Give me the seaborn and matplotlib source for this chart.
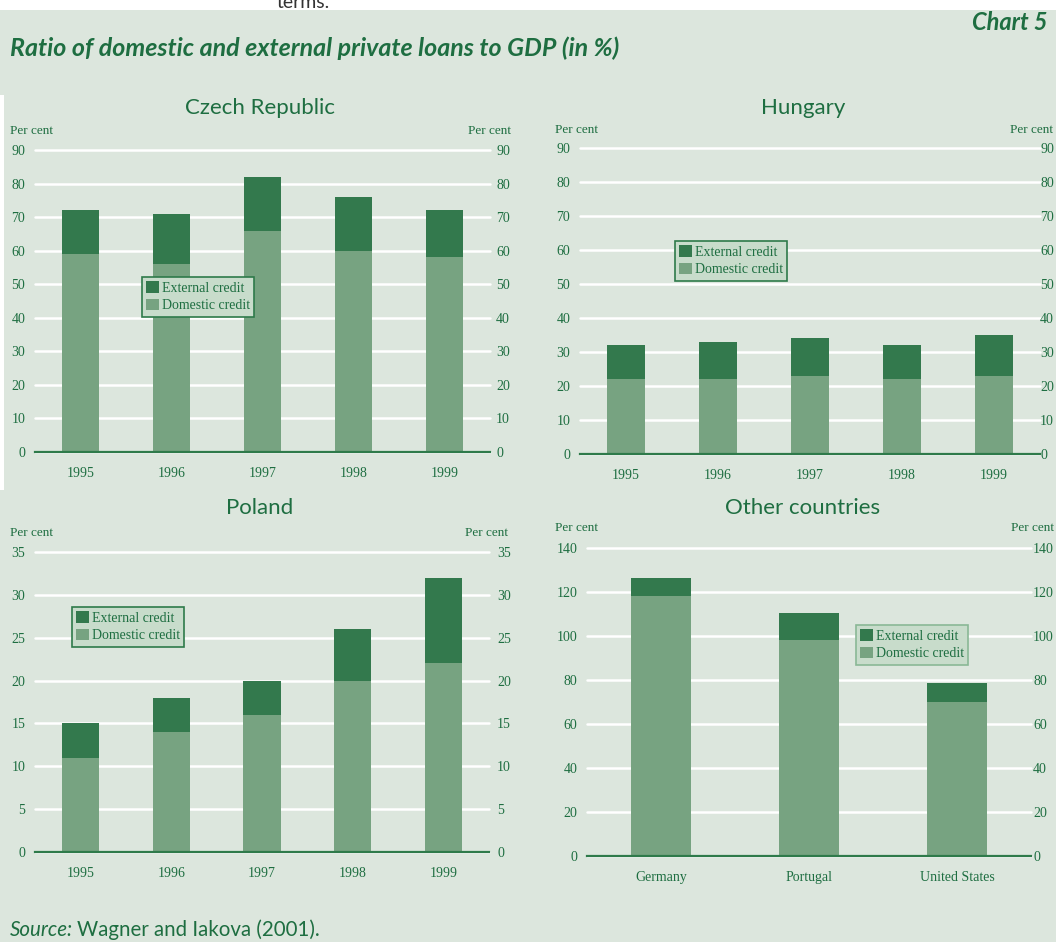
import matplotlib
matplotlib.use('Agg')
import matplotlib.pyplot as plt
import pandas as pd
import seaborn as sns
from matplotlib.patches import Patch, Rectangle

# data (per cent of GDP)
years = ['1995', '1996', '1997', '1998', '1999']
czech_total = [72, 71, 82, 76, 72]
czech_domestic = [59, 56, 66, 60, 58]
hungary_total = [32, 33, 34, 32, 35]
hungary_domestic = [22, 22, 23, 22, 23]
poland_total = [15, 18, 20, 26, 32]
poland_domestic = [11, 14, 16, 20, 22]
other_countries = ['Germany', 'Portugal', 'United States']
other_total = [126.5, 110.5, 78.5]
other_domestic = [118, 98, 70]

BG = '#dce6dd'
DARK = '#33794d'
LIGHT = '#77a381'
TXT = '#1e6e41'
LINE = '#2e7a4a'

W, H = 1056, 942
sns.set_theme(style='white')
plt.rcParams['font.family'] = ['Liberation Serif', 'DejaVu Serif']

fig = plt.figure(figsize=(W / 100, H / 100), dpi=100)
fig.patch.set_facecolor('white')

# cut-off line of text above the chart box, then the box itself
fig.text(303 / W, 1 - 3 / H, 'terms.', ha='center', va='center', fontsize=14,
         family='Lato', color='#333333', zorder=-3)
fig.patches.append(Rectangle((0, 0), 1, 1 - 10 / H, transform=fig.transFigure,
                             facecolor=BG, edgecolor='none', zorder=-2))
fig.patches.append(Rectangle((0, 1 - 490 / H), 4 / W, 395 / H, transform=fig.transFigure,
                             facecolor='white', edgecolor='none', zorder=-1))

fig.text(1048 / W, 1 - 22 / H, 'Chart 5', ha='right', va='center', fontsize=17,
         family='Lato', style='italic', weight='bold', color=TXT)
fig.text(10 / W, 1 - 48 / H, 'Ratio of domestic and external private loans to GDP (in %)',
         ha='left', va='center', fontsize=18, family='Lato', style='italic',
         weight='bold', color=TXT)


def px(x, y):
    return x / W, 1 - y / H


def panel(cats, total, domestic, ymax, step, box, title, title_xy, pc_left, pc_right,
          legend_xy, right_pad, legend_edge=LINE):
    x0, x1, ytop, ybot = box
    ax = fig.add_axes([x0 / W, 1 - ybot / H, (x1 - x0) / W, (ybot - ytop) / H])
    ax.set_zorder(1)
    ax.set_facecolor('none')
    df = pd.DataFrame({'cat': cats, 'total': total, 'domestic': domestic})
    sns.barplot(data=df, x='cat', y='total', color=DARK, saturation=1, width=0.41,
                linewidth=0, ax=ax, zorder=3)
    sns.barplot(data=df, x='cat', y='domestic', color=LIGHT, saturation=1, width=0.41,
                linewidth=0, ax=ax, zorder=3)
    ax.set_ylim(0, ymax)
    ax.set_yticks(range(0, ymax + 1, step))
    ax.set_xlabel('')
    ax.set_ylabel('')
    ax.grid(axis='y', color='white', linewidth=1.8, zorder=1)
    ax.grid(axis='x', visible=False)
    for gl in ax.get_ygridlines():
        gl.set_clip_on(False)
    for s in ['top', 'left', 'right']:
        ax.spines[s].set_visible(False)
    ax.spines['bottom'].set_color(LINE)
    ax.spines['bottom'].set_linewidth(1.6)
    ax.spines['bottom'].set_zorder(4)
    ax.tick_params(axis='y', left=False, right=False, length=0, labelleft=True,
                   labelright=True, labelsize=10, labelcolor=TXT, pad=7)
    ax.tick_params(axis='x', bottom=False, length=0, labelsize=10, labelcolor=TXT, pad=11)
    # right-hand labels: the pad above is ~9.7 px, shift to the wanted gap
    for t in ax.yaxis.get_major_ticks():
        t.label2.set_x(1 + (right_pad - 9.7) / (x1 - x0))
        t.label2.set_horizontalalignment('left')
    fig.text(*px(*title_xy), title, ha='center', va='center', fontsize=16,
             family='Lato', color=TXT)
    fig.text(*px(*pc_left), 'Per cent', ha='left', va='center', fontsize=9.5, color=TXT)
    fig.text(*px(*pc_right), 'Per cent', ha='right', va='center', fontsize=9.5, color=TXT)
    handles = [Patch(facecolor=DARK, edgecolor='none', label='External credit'),
               Patch(facecolor=LIGHT, edgecolor='none', label='Domestic credit')]
    leg = ax.legend(handles=handles, loc='upper left', bbox_to_anchor=px(*legend_xy),
                    bbox_transform=fig.transFigure, fancybox=False, framealpha=1,
                    facecolor='#c8dccb', edgecolor=legend_edge, fontsize=10,
                    handlelength=0.9, handleheight=0.9, handletextpad=0.25,
                    labelspacing=0.3, borderpad=0.3, borderaxespad=0)
    leg.get_frame().set_linewidth(1.2)
    for t in leg.get_texts():
        t.set_color(TXT)
    leg.set_zorder(5)
    return ax


panel(years, czech_total, czech_domestic, 90, 10, (35, 490, 150, 452),
      'Czech Republic', (260, 108), (10, 131), (511, 131), (142, 277), 6)
panel(years, hungary_total, hungary_domestic, 90, 10, (580, 1040, 148, 454),
      'Hungary', (803, 108), (555, 130), (1053, 130), (675, 241), 0)
panel(years, poland_total, poland_domestic, 35, 5, (35, 489, 552, 852),
      'Poland', (260, 508), (10, 533), (508, 533), (72, 607), 8)
panel(other_countries, other_total, other_domestic, 140, 20, (587, 1031, 548, 856),
      'Other countries', (803, 508), (555, 528), (1054, 528), (856, 625), 2,
      legend_edge='#8ab896')

# source line: italic label followed by upright text
src = fig.text(10 / W, 1 - 930 / H, 'Source:', ha='left', va='center', fontsize=14.8,
               family='Lato', style='italic', color=TXT)
fig.canvas.draw()
bb = src.get_window_extent()
fig.text((bb.x1 + 4) / W, 1 - 930 / H, 'Wagner and Iakova (2001).', ha='left',
         va='center', fontsize=14.8, family='Lato', color=TXT)

fig.savefig('out.png', dpi=100, facecolor=fig.get_facecolor())
